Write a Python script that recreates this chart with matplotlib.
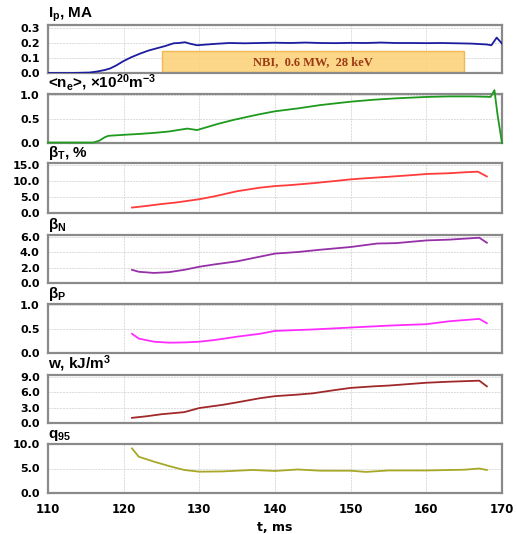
import matplotlib
matplotlib.use("Agg")
import matplotlib.pyplot as plt
from matplotlib.patches import Rectangle

plt.rcParams['font.family'] = ['Liberation Sans', 'DejaVu Sans']
plt.rcParams['font.weight'] = 'bold'
plt.rcParams['mathtext.default'] = 'regular'

########################################
# Data (t in ms)
#
t_ip = [110, 113, 115.5, 116.5, 117.5, 118.2, 119, 120, 121, 122.2, 123.3, 124.4, 125.5, 126.6, 127.3,
        128.1, 128.8, 129.7, 130.5, 132.3, 134, 136, 138, 140, 142, 144, 146, 148, 150, 152,
        154, 156, 158, 160, 162, 164, 166, 168, 168.6, 169.3, 170]
ip = [0, 0, 0.003, 0.01, 0.02, 0.03, 0.05, 0.08, 0.105, 0.13, 0.15, 0.165, 0.18, 0.198, 0.2,
      0.205, 0.195, 0.185, 0.188, 0.195, 0.2, 0.198, 0.2, 0.202, 0.2, 0.203, 0.2, 0.199, 0.201, 0.2,
      0.203, 0.2, 0.2, 0.199, 0.2, 0.198, 0.196, 0.19, 0.185, 0.236, 0.196]

t_ne = [110, 112, 114, 116, 116.8, 117.5, 118, 120, 122.2, 124, 126, 128.4, 129.7, 131, 132.5,
        134.5, 136.8, 138, 140, 143, 146, 150, 153, 156, 160.2, 163, 166, 168.5, 169, 169.4, 170]
ne = [0.01, 0.01, 0.01, 0.01, 0.05, 0.12, 0.15, 0.17, 0.19, 0.21, 0.24, 0.30, 0.27, 0.33, 0.4,
      0.48, 0.56, 0.6, 0.66, 0.72, 0.79, 0.86, 0.9, 0.93, 0.96, 0.97, 0.97, 0.96, 1.1, 0.6, 0.0]

t_bt = [121.1, 123, 125, 127, 130, 132, 135, 138, 140, 142, 145, 148, 150, 153, 155, 158, 160.2,
        163, 165, 166.8, 168]
beta_t = [1.7, 2.2, 2.8, 3.3, 4.3, 5.2, 6.8, 7.9, 8.4, 8.7, 9.3, 10.0, 10.5, 11.0, 11.3, 11.8, 12.2,
          12.4, 12.7, 12.9, 11.4]

t_bn = [121.1, 122, 124, 126, 128, 130, 132, 135, 138, 140, 143, 146, 150, 153.5, 156, 160, 163, 167, 168]
beta_n = [1.7, 1.45, 1.3, 1.4, 1.7, 2.1, 2.4, 2.8, 3.4, 3.8, 4.0, 4.3, 4.65, 5.1, 5.15, 5.5, 5.6, 5.85, 5.2]

t_bp = [121.1, 122, 124, 126, 128, 130, 132, 135, 138, 140, 145, 150, 155, 160, 163, 167, 168]
beta_p = [0.40, 0.30, 0.235, 0.215, 0.22, 0.235, 0.27, 0.34, 0.40, 0.46, 0.49, 0.53, 0.57, 0.6, 0.66, 0.71, 0.62]

t_w = [121.1, 123, 125, 128, 130, 133, 135, 138, 140, 143, 145, 148, 150, 153, 155, 160, 163, 167, 168]
w = [1.0, 1.3, 1.7, 2.1, 2.9, 3.5, 4.0, 4.8, 5.2, 5.5, 5.75, 6.4, 6.8, 7.1, 7.25, 7.8, 8.0, 8.2, 7.1]

t_q = [121.1, 122, 124, 126, 128, 130, 133, 135, 137, 140, 143, 146, 150, 152, 155, 160, 165, 167, 168]
q95 = [9.1, 7.4, 6.4, 5.5, 4.7, 4.35, 4.4, 4.55, 4.7, 4.5, 4.8, 4.55, 4.55, 4.3, 4.6, 4.6, 4.75, 5.0, 4.7]

titles = [r"I$_p$, MA", r"<n$_e$>, ×10$^{20}$m$^{-3}$", r"β$_T$, %", r"β$_N$", r"β$_P$",
          r"w, kJ/m$^3$", r"q$_{95}$"]
yticks = [[0, 0.1, 0.2, 0.3], [0, 0.5, 1.0], [0, 5, 10, 15], [0, 2, 4, 6], [0, 0.5, 1.0],
          [0, 3, 6, 9], [0, 5, 10]]
ytops = [0.32, 1.02, 15.6, 6.2, 1.02, 9.3, 10.0]
xticks = [110, 120, 130, 140, 150, 160, 170]

series = [(t_ip, ip, '#1c1ca0'), (t_ne, ne, '#1e9a1e'), (t_bt, beta_t, '#ff3b3b'),
          (t_bn, beta_n, '#9630a8'), (t_bp, beta_p, '#ff2cff'), (t_w, w, '#a02828'),
          (t_q, q95, '#a8a828')]

# panel top / bottom in pixels
panels = [(25, 73), (94, 143), (163, 213), (235, 283), (304, 353), (375, 423), (444, 493)]

W, H = 517, 534
fig = plt.figure(figsize=(W / 100, H / 100), dpi=100)

for i, (top, bot) in enumerate(panels):
    ax = fig.add_axes([48 / W, 1 - bot / H, (502 - 48) / W, (bot - top) / H])
    tt, yy, col = series[i]
    ax.plot(tt, yy, color=col, lw=1.3, clip_on=(i != 1), zorder=3)
    ax.set_xlim(110, 170)
    ax.set_ylim(0, ytops[i])
    ax.set_yticks(yticks[i])
    ax.set_yticklabels(["%.1f" % v for v in yticks[i]], fontsize=8, fontweight='bold',
                       family='DejaVu Sans')
    ax.set_xticks(xticks)
    if i == len(panels) - 1:
        ax.set_xticklabels([str(v) for v in xticks], fontsize=8.5, fontweight='bold',
                           family='DejaVu Sans')
        ax.set_xlabel("t, ms", fontsize=9, fontweight='bold', family='DejaVu Sans', labelpad=4)
        ax.tick_params(axis='x', pad=7)
    else:
        ax.set_xticklabels([])
    ax.tick_params(length=0)
    ax.tick_params(axis='y', pad=6)
    ax.grid(True, color='#dadada', lw=0.7, ls=(0, (2, 1)))
    ax.set_axisbelow(True)
    for s in ax.spines.values():
        s.set_color('#8a8a8a')
        s.set_linewidth(1.6)
    ax.text(0.0, 1.03, titles[i], transform=ax.transAxes, ha='left', va='bottom',
            fontsize=11, fontweight='bold')
    if i == 0:
        ax.add_patch(Rectangle((125, 0.005), 40, 0.14, facecolor='#fcd27c', edgecolor='#f2b444',
                               lw=1, alpha=0.9, zorder=2))
        ax.text(145, 0.07, "NBI,  0.6 MW,  28 keV", ha='center', va='center', fontsize=9,
                fontweight='bold', family='Liberation Serif', color='#9c3a14', zorder=4)

fig.savefig("out.png", dpi=100)
